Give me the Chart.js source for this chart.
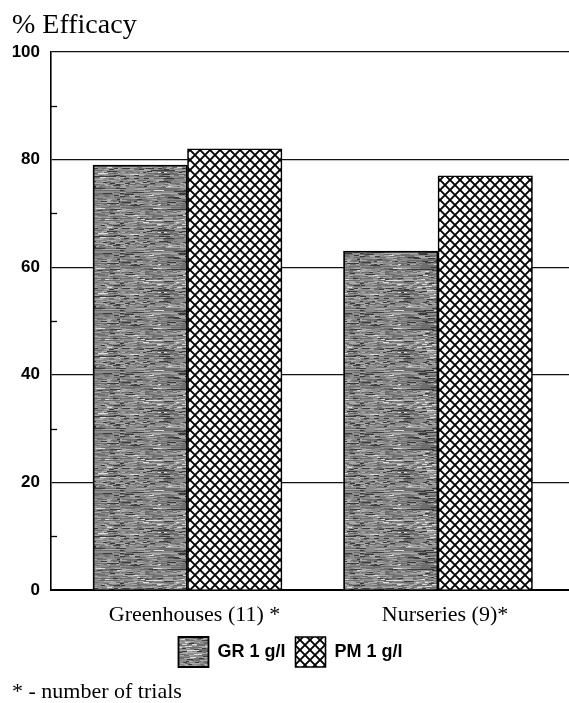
<!DOCTYPE html>
<html>
<head>
<meta charset="utf-8">
<script src="https://cdn.jsdelivr.net/npm/chart.js@4.4.0/dist/chart.umd.min.js"></script>
<style>
  html, body { margin: 0; padding: 0; background: #fff; }
  #wrap { width: 569px; height: 703px; }
</style>
</head>
<body>
<div id="wrap"><canvas id="chart" width="569" height="703"></canvas></div>
<script>
// chart data
const categories = ['Greenhouses (11) *', 'Nurseries (9)*'];
const categoryPos = [0, 1];
const grValues = [79, 63];
const pmValues = [82, 77];
const seriesNames = ['GR 1 g/l', 'PM 1 g/l'];
const minorTicks = [10, 30, 50, 70, 90];

// grey streaky texture for GR bars (deterministic hash, only a fill texture)
function makeGrPattern(ctx) {
    const w = 120, h = 60;
    const c = document.createElement('canvas');
    c.width = w; c.height = h;
    const g = c.getContext('2d');
    const img = g.createImageData(w, h);
    const hash = (a, b) => {
        const s = Math.sin(a * 12.9898 + b * 78.233) * 43758.5453;
        return s - Math.floor(s);
    };
    for (let y = 0; y < h; y++) {
        const rowShade = hash(1.7, y);
        const runLen = 3 + Math.floor(hash(y, 3.1) * 10);
        const offset = Math.floor(hash(y, 5.3) * 20);
        for (let x = 0; x < w; x++) {
            const seg = Math.floor((x + offset) / runLen);
            const r = hash(seg, y + 0.5) * 0.8 + rowShade * 0.2;
            let v;
            if (r < 0.2) v = 60;
            else if (r < 0.45) v = 110;
            else if (r < 0.72) v = 140;
            else if (r < 0.9) v = 170;
            else v = 220;
            const i = (y * w + x) * 4;
            img.data[i] = v; img.data[i + 1] = v; img.data[i + 2] = v; img.data[i + 3] = 255;
        }
    }
    g.putImageData(img, 0, 0);
    return ctx.createPattern(c, 'repeat');
}

// white with black diagonal cross-hatch for PM bars
function makeHatchPattern(ctx) {
    const s = 10;
    const c = document.createElement('canvas');
    c.width = s; c.height = s;
    const g = c.getContext('2d');
    g.fillStyle = '#fff';
    g.fillRect(0, 0, s, s);
    g.strokeStyle = '#000';
    g.lineWidth = 1.9;
    for (const k of [-s, 0, s]) {
        g.beginPath();
        g.moveTo(k - 1, -1); g.lineTo(k + s + 1, s + 1);
        g.moveTo(k + s + 1, -1); g.lineTo(k - 1, s + 1);
        g.stroke();
    }
    return ctx.createPattern(c, 'repeat');
}

// short inward ticks at the unlabelled y values
const minorTickPlugin = {
    id: 'minorTickPlugin',
    afterDraw(chart) {
        const ctx = chart.ctx;
        const y = chart.scales.y;
        const left = chart.chartArea.left;
        ctx.save();
        ctx.strokeStyle = '#000';
        ctx.lineWidth = 1.3;
        minorTicks.forEach(v => {
            const py = Math.round(y.getPixelForValue(v)) + 0.5;
            ctx.beginPath();
            ctx.moveTo(left, py);
            ctx.lineTo(left + 6, py);
            ctx.stroke();
        });
        ctx.restore();
    }
};

const ctx = document.getElementById('chart').getContext('2d');
const grFill = makeGrPattern(ctx);
const pmFill = makeHatchPattern(ctx);

new Chart(ctx, {
    type: 'bar',
    data: {
        datasets: [
            {
                label: seriesNames[0],
                data: categoryPos.map((x, i) => ({ x: x, y: grValues[i] })),
                backgroundColor: grFill,
                borderColor: '#000',
                borderWidth: 1.8
            },
            {
                label: seriesNames[1],
                data: categoryPos.map((x, i) => ({ x: x, y: pmValues[i] })),
                backgroundColor: pmFill,
                borderColor: '#000',
                borderWidth: 1.6
            }
        ]
    },
    options: {
        responsive: false,
        animation: false,
        barThickness: 94.5,
        layout: {
            padding: { left: 12, right: 0, top: 0, bottom: 0 }
        },
        plugins: {
            tooltip: { enabled: false },
            title: {
                display: true,
                text: '% Efficacy',
                align: 'start',
                color: '#000',
                font: { family: 'Liberation Serif', size: 28, weight: 'normal', lineHeight: 1.2 },
                padding: { top: 9, bottom: 9.4 }
            },
            subtitle: {
                display: true,
                position: 'bottom',
                text: '* - number of trials',
                align: 'start',
                color: '#000',
                font: { family: 'Liberation Serif', size: 22, weight: 'normal', lineHeight: 1.0 },
                padding: { top: 4, bottom: 0 }
            },
            legend: {
                display: true,
                position: 'bottom',
                labels: {
                    color: '#000',
                    boxWidth: 30,
                    boxHeight: 30,
                    padding: 10,
                    font: { family: 'Liberation Sans', size: 18, weight: 'bold' }
                }
            }
        },
        scales: {
            x: {
                type: 'linear',
                offset: false,
                min: -0.5449,
                max: 1.523,
                grid: { display: false, offset: false },
                border: { display: true, color: '#000', width: 2 },
                afterBuildTicks: scale => {
                    scale.ticks = categoryPos.map(v => ({ value: v }));
                },
                afterFit: scale => { scale.height = 37; },
                ticks: {
                    color: '#000',
                    padding: 4,
                    labelOffset: 7,
                    maxRotation: 0,
                    autoSkip: false,
                    font: { family: 'Liberation Serif', size: 22, lineHeight: 1.2 },
                    callback: value => categories[categoryPos.indexOf(value)]
                }
            },
            y: {
                min: 0,
                max: 100,
                afterFit: scale => { scale.width = 39; },
                grid: {
                    color: '#111',
                    lineWidth: 1.2,
                    drawTicks: false
                },
                border: { display: true, color: '#000', width: 1.6 },
                ticks: {
                    stepSize: 20,
                    padding: 11,
                    color: '#000',
                    font: { family: 'Liberation Sans', size: 17, weight: 'bold' }
                }
            }
        }
    },
    plugins: [minorTickPlugin]
});
</script>
</body>
</html>
